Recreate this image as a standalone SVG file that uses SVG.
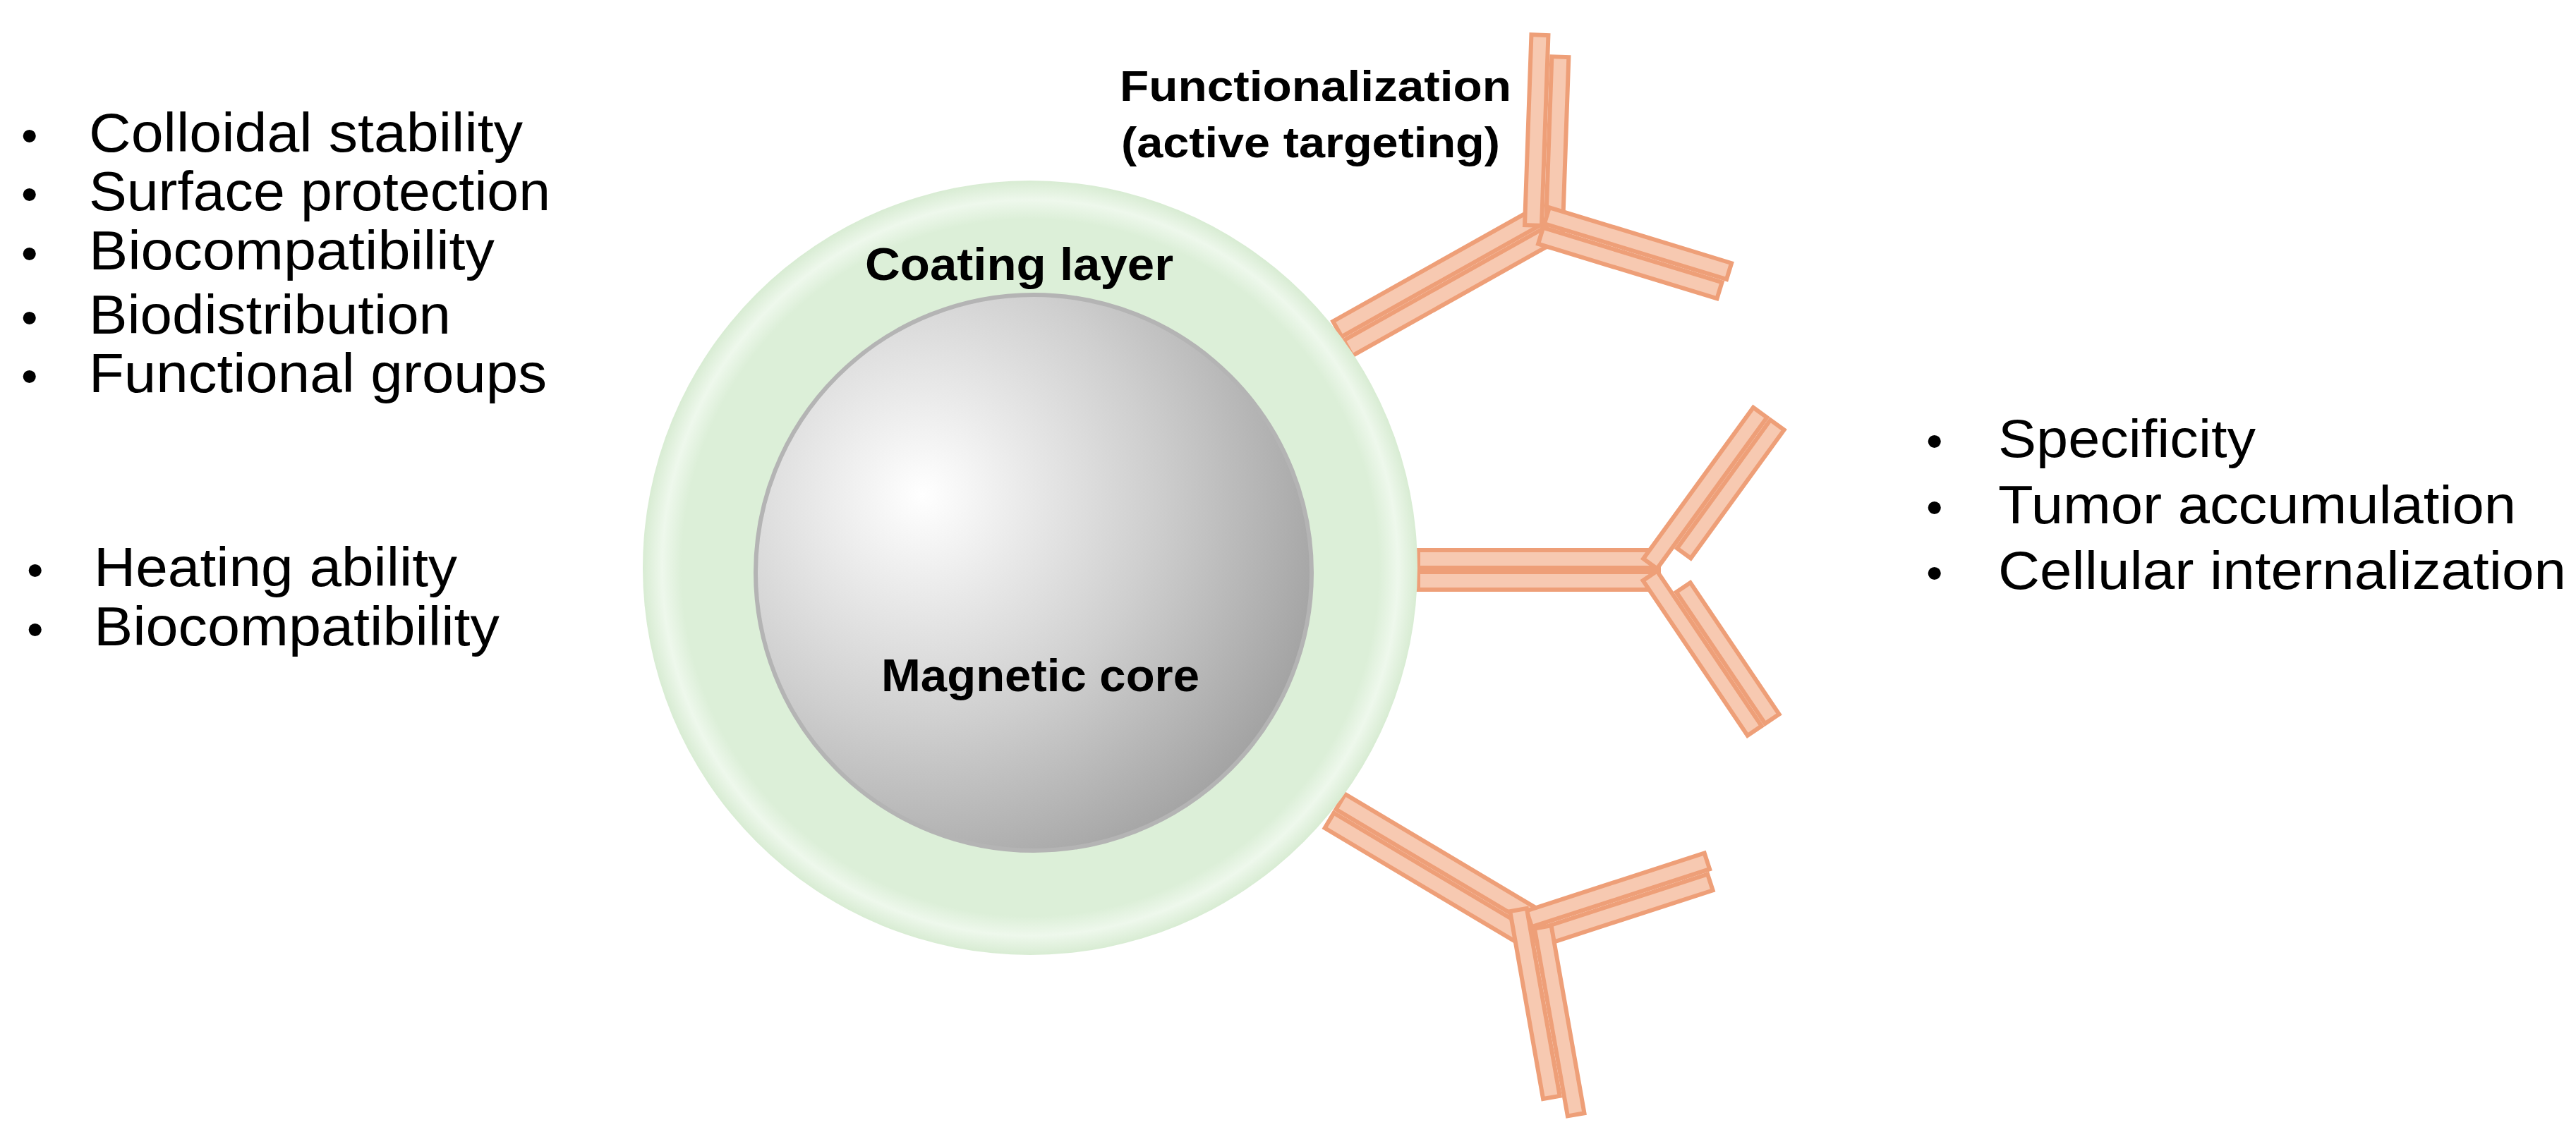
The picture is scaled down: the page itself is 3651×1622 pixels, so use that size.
<svg xmlns="http://www.w3.org/2000/svg" width="3651" height="1622" viewBox="0 0 3651 1622">
<style>
.t{font-family:"Liberation Sans",Arial,sans-serif;fill:#000}
.l{font-size:78px}
.d{font-size:67px}
.r{font-size:76px}
.b{font-size:64px;font-weight:bold}
.bar{fill:#f7c9b1;stroke:#ee9f78;stroke-width:6}
</style>
<defs>
<radialGradient id="core" cx="0.3" cy="0.36" r="0.75">
<stop offset="0" stop-color="#ffffff"/>
<stop offset="0.55" stop-color="#cfcfcf"/>
<stop offset="1" stop-color="#a2a2a2"/>
</radialGradient>
<radialGradient id="coat" cx="0.5" cy="0.5" r="0.5">
<stop offset="0.9" stop-color="#dcefd8"/>
<stop offset="0.95" stop-color="#eef8ec"/>
<stop offset="1" stop-color="#d8ecd3"/>
</radialGradient>
</defs>
<rect width="3651" height="1622" fill="#fff"/>
<g id="connectors">
<g id="ab-top">
<g transform="translate(1903,480) rotate(-29.3)"><rect class="bar" x="0" y="-28" width="327" height="25"/><rect class="bar" x="0" y="3" width="327" height="25"/></g>
<g transform="translate(2188,320) rotate(-88)"><rect class="bar" x="0" y="-27" width="270" height="24"/><rect class="bar" x="-30" y="3" width="270" height="24"/></g>
<g transform="translate(2188,320) rotate(17)"><rect class="bar" x="0" y="-27" width="270" height="24"/><rect class="bar" x="0" y="3" width="265" height="24"/></g>
</g>
<g id="ab-mid">
<g transform="translate(2010,808)"><rect class="bar" x="0" y="-28" width="341" height="25"/><rect class="bar" x="0" y="3" width="341" height="25"/></g>
<g transform="translate(2351,808) rotate(-54)"><rect class="bar" x="0" y="-27" width="265" height="24"/><rect class="bar" x="40" y="3" width="225" height="24"/></g>
<g transform="translate(2351,808) rotate(56)"><rect class="bar" x="40" y="-27" width="225" height="24"/><rect class="bar" x="0" y="3" width="265" height="24"/></g>
</g>
<g id="ab-bot">
<g transform="translate(1892,1150) rotate(30.8)"><rect class="bar" x="0" y="-28" width="326" height="25"/><rect class="bar" x="0" y="3" width="326" height="25"/></g>
<g transform="translate(2172,1317) rotate(-18)"><rect class="bar" x="0" y="-27" width="265" height="24"/><rect class="bar" x="0" y="3" width="260" height="24"/></g>
<g transform="translate(2172,1317) rotate(80)"><rect class="bar" x="0" y="-27" width="270" height="24"/><rect class="bar" x="-30" y="3" width="270" height="24"/></g>
</g>
</g>
<g id="coating">
<circle cx="1460" cy="805" r="549" fill="url(#coat)"/>
<text class="t b" x="1226" y="397" textLength="437" lengthAdjust="spacingAndGlyphs">Coating layer</text>
</g>
<g id="core-node">
<circle cx="1465" cy="812" r="394" fill="url(#core)" stroke="#b4b4b4" stroke-width="6"/>
<text class="t b" x="1249" y="980" textLength="451" lengthAdjust="spacingAndGlyphs">Magnetic core</text>
</g>
<g id="func-label">
<text class="t" style="font-size:62px;font-weight:bold" x="1587" y="143" textLength="555" lengthAdjust="spacingAndGlyphs">Functionalization</text>
<text class="t" style="font-size:62px;font-weight:bold" x="1589" y="223" textLength="537" lengthAdjust="spacingAndGlyphs">(active targeting)</text>
</g>
<g id="coating-props">
<text class="t d" x="30" y="215">•</text><text class="t l" x="126" y="215" textLength="615" lengthAdjust="spacingAndGlyphs">Colloidal stability</text>
<text class="t d" x="30" y="298">•</text><text class="t l" x="126" y="298" textLength="654" lengthAdjust="spacingAndGlyphs">Surface protection</text>
<text class="t d" x="30" y="382">•</text><text class="t l" x="126" y="382" textLength="575" lengthAdjust="spacingAndGlyphs">Biocompatibility</text>
<text class="t d" x="30" y="473">•</text><text class="t l" x="126" y="473" textLength="513" lengthAdjust="spacingAndGlyphs">Biodistribution</text>
<text class="t d" x="30" y="556">•</text><text class="t l" x="126" y="556" textLength="649" lengthAdjust="spacingAndGlyphs">Functional groups</text>
</g>
<g id="core-props">
<text class="t d" x="38" y="831">•</text><text class="t l" x="133" y="831" textLength="515" lengthAdjust="spacingAndGlyphs">Heating ability</text>
<text class="t d" x="38" y="915">•</text><text class="t l" x="133" y="915" textLength="575" lengthAdjust="spacingAndGlyphs">Biocompatibility</text>
</g>
<g id="target-props">
<text class="t d" x="2730" y="648">•</text><text class="t r" x="2832" y="648" textLength="365" lengthAdjust="spacingAndGlyphs">Specificity</text>
<text class="t d" x="2730" y="742">•</text><text class="t r" x="2832" y="742" textLength="734" lengthAdjust="spacingAndGlyphs">Tumor accumulation</text>
<text class="t d" x="2730" y="835">•</text><text class="t r" x="2832" y="835" textLength="805" lengthAdjust="spacingAndGlyphs">Cellular internalization</text>
</g>
</svg>
